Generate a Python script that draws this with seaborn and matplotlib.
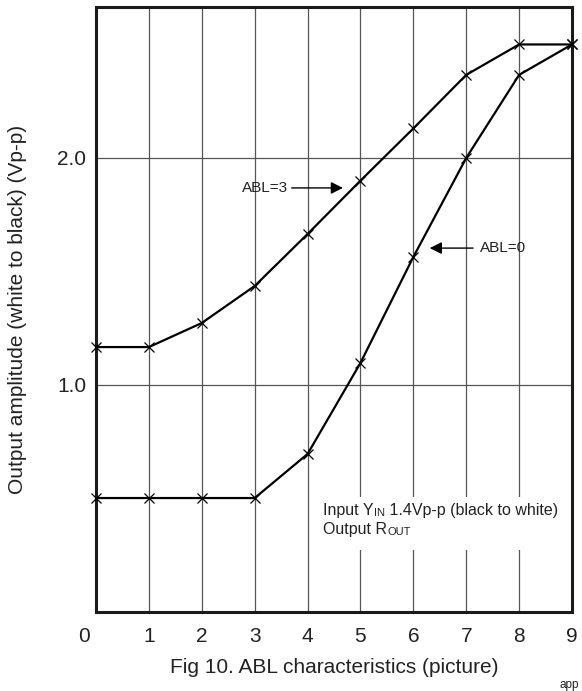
import matplotlib
matplotlib.use("Agg")
import matplotlib.pyplot as plt
import matplotlib.transforms as mtransforms
from matplotlib.patches import Rectangle
import seaborn as sns
import pandas as pd

# ---- data ----
picture = [0, 1, 2, 3, 4, 5, 6, 7, 8, 9]
abl3 = [1.167, 1.167, 1.273, 1.436, 1.665, 1.90, 2.13, 2.366, 2.50, 2.50]
abl0 = [0.502, 0.502, 0.502, 0.502, 0.696, 1.097, 1.564, 2.00, 2.366, 2.50]
x_ticks = [0, 1, 2, 3, 4, 5, 6, 7, 8, 9]
y_ticks = [1.0, 2.0]
y_tick_labels = ["1.0", "2.0"]

df3 = pd.DataFrame({"picture": picture, "amp": abl3})
df0 = pd.DataFrame({"picture": picture, "amp": abl0})

sns.set_style("white")
plt.rcParams["font.family"] = ["Liberation Sans", "DejaVu Sans"]

fig = plt.figure(figsize=(5.82, 6.91), dpi=100)
ax = fig.add_axes([96 / 582, 1 - 612 / 691, 476 / 582, 605 / 691])

for d in (df3, df0):
    sns.lineplot(data=d, x="picture", y="amp", ax=ax, color="black",
                 linewidth=1.6, marker="x", markersize=7.5,
                 markeredgewidth=0.9, markeredgecolor="black", zorder=3,
                 clip_on=False)

ax.set_xlim(0, 9)
ax.set_ylim(0, 2.665)
ax.set_xticks(x_ticks)
ax.set_xticklabels([str(t) for t in x_ticks])
ax.set_yticks(y_ticks)
ax.set_yticklabels(y_tick_labels)
ax.tick_params(axis="both", length=0, labelsize=15, colors="#222222")
ax.tick_params(axis="x", pad=11)
ax.tick_params(axis="y", pad=7)

# shift the "0" tick label left as in the reference
lbl0 = ax.get_xticklabels()[0]
lbl0.set_transform(lbl0.get_transform() +
                   mtransforms.ScaledTranslation(-12 / 100, 0, fig.dpi_scale_trans))

ax.grid(True, color="#555555", linewidth=0.9)
ax.set_axisbelow(True)
for s in ax.spines.values():
    s.set_visible(True)
    s.set_color("#1a1a1a")
    s.set_linewidth(2.2)

ax.set_xlabel("Fig 10. ABL characteristics (picture)", fontsize=15, color="#222222")
ax.set_ylabel("Output amplitude (white to black) (Vp-p)", fontsize=15, color="#222222")
ax.xaxis.set_label_coords(0.5, (612 - 658) / 605)
ax.yaxis.set_label_coords((27 - 96) / 476, 0.5)

# annotations
ax.annotate("", xy=(4.67, 1.868), xytext=(3.70, 1.868),
            arrowprops=dict(arrowstyle="-|>", color="black", lw=1.0,
                            mutation_scale=18, shrinkA=0, shrinkB=0))
ax.text(2.76, 1.868, "ABL=3", fontsize=11, va="center", ha="left", color="#222222")

ax.annotate("", xy=(6.31, 1.603), xytext=(7.13, 1.603),
            arrowprops=dict(arrowstyle="-|>", color="black", lw=1.0,
                            mutation_scale=18, shrinkA=0, shrinkB=0))
ax.text(7.26, 1.603, "ABL=0", fontsize=11, va="center", ha="left", color="#222222")

# white backing behind the input/output note (interrupts the grid lines)
ax.add_patch(Rectangle((4.25, 0.275), 4.5, 0.232, facecolor="white",
                       edgecolor="none", zorder=1))
t1 = ax.text(4.29, 0.415, "Input Y", fontsize=11.5, va="bottom", ha="left",
             color="#222222", zorder=2)
t2 = ax.annotate("IN", xy=(1, 0), xycoords=t1, xytext=(0.5, 0),
                 textcoords="offset points", fontsize=8, va="bottom", ha="left",
                 color="#222222", zorder=2, annotation_clip=False)
ax.annotate(" 1.4Vp-p (black to white)", xy=(1, 0), xycoords=(t2, t1),
            fontsize=11.5, va="bottom", ha="left", color="#222222", zorder=2)
t4 = ax.text(4.29, 0.33, "Output R", fontsize=11.5, va="bottom", ha="left",
             color="#222222", zorder=2)
ax.annotate("OUT", xy=(1, 0), xycoords=t4, xytext=(0.5, 0),
            textcoords="offset points", fontsize=8, va="bottom", ha="left",
            color="#222222", zorder=2)

fig.text(560 / 582, 1 - 688 / 691, "app", fontsize=8.5, va="baseline",
         ha="left", color="#222222")

fig.savefig("out.png", dpi=100, facecolor="white")
